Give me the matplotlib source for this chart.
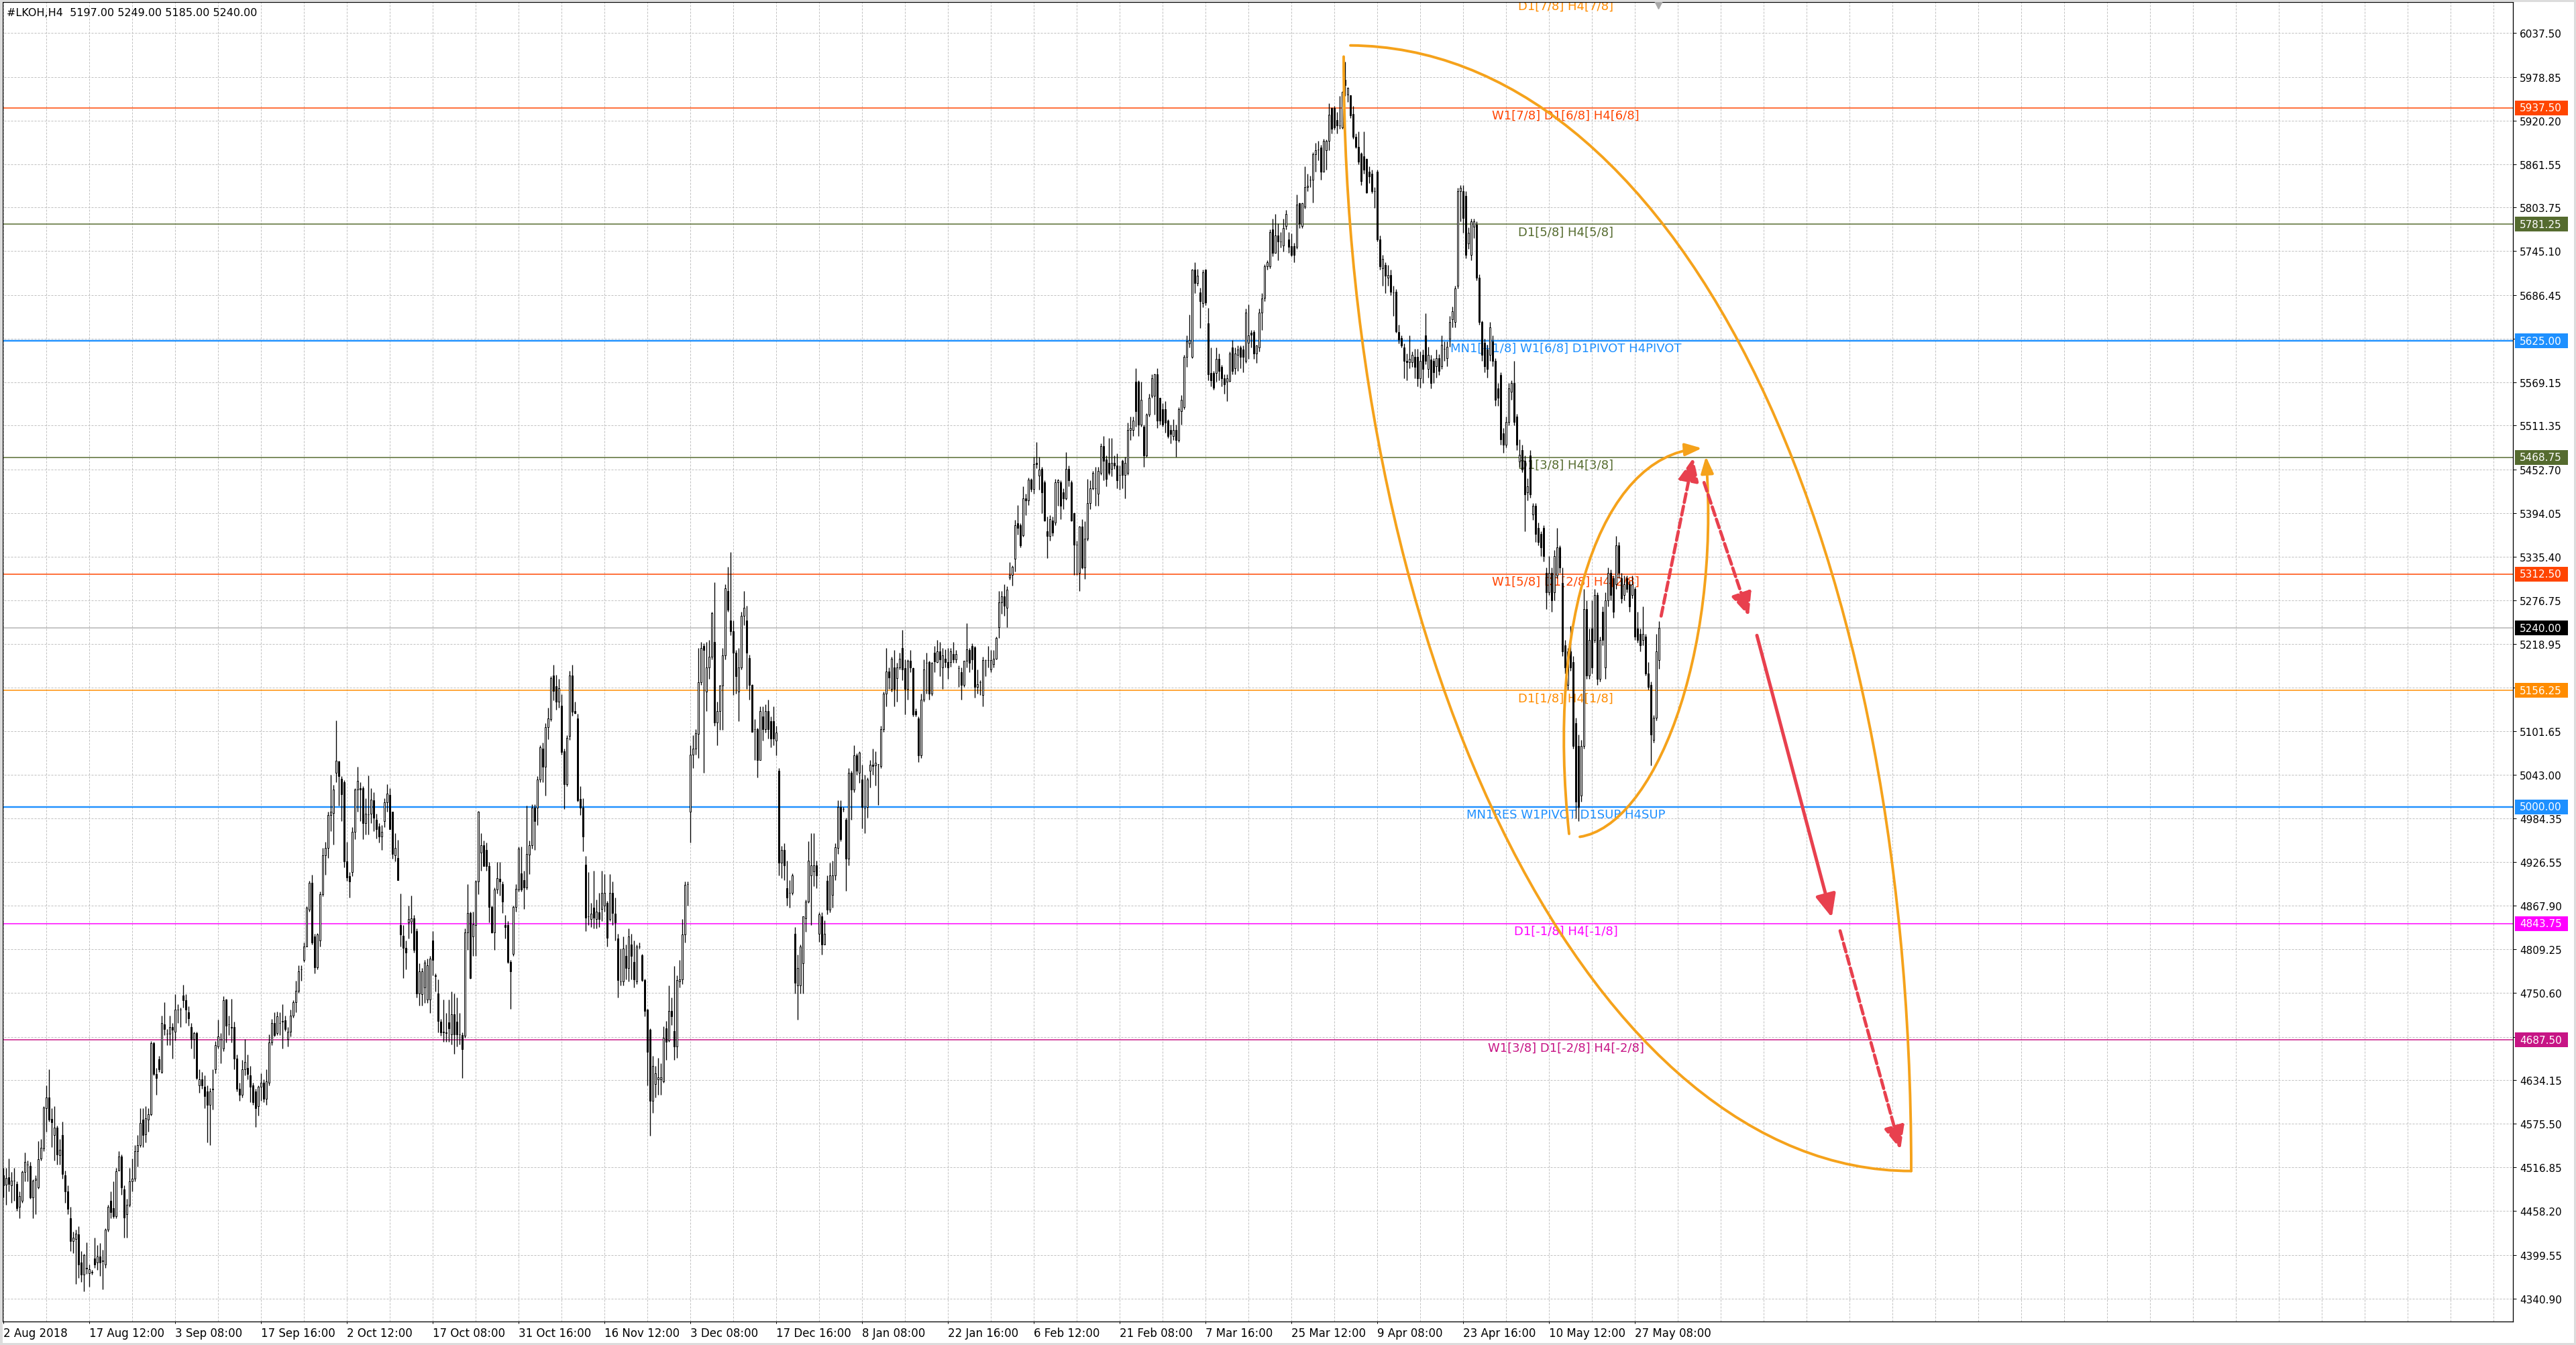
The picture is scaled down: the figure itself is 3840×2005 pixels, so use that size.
import numpy as np
import matplotlib
matplotlib.use("Agg")
import matplotlib.pyplot as plt
import matplotlib.transforms as mtransforms
from matplotlib.patches import Rectangle, FancyArrowPatch, PathPatch
from matplotlib.path import Path

plt.rcParams['font.family'] = ['DejaVu Sans', 'Noto Sans']

# ---------------- data ----------------
header_text = "#LKOH,H4  5197.00 5249.00 5185.00 5240.00"

opens = [
4506,4494,4504,4493,4499,4495,4464,4472,4511,4521,4519,4477,4500,4490,4529,4542,4596,4611,4582,4560,
4570,4533,4560,4506,4485,4449,4418,4421,4427,4389,4373,4382,4375,4376,4395,4389,4397,4391,4387,4433,
4472,4462,4451,4513,4531,4487,4454,4467,4498,4502,4539,4547,4581,4561,4581,4588,4683,4642,4662,4645,
4709,4696,4696,4705,4699,4728,4728,4747,4741,4725,4705,4689,4697,4627,4635,4625,4619,4601,4621,4648,
4679,4689,4676,4742,4709,4705,4705,4663,4622,4614,4648,4650,4640,4627,4619,4599,4625,4630,4609,4630,
4684,4710,4697,4710,4712,4714,4689,4699,4720,4738,4754,4782,4795,4813,4862,4898,4826,4785,4821,4883,
4935,4945,4989,4992,5046,5061,5038,5033,4927,
4907,4913,4967,5023,5025,5025,4978,4990,4991,5009,4983,4974,4960,4981,5006,5016,4994,4935,4932,4842,
4827,4811,4845,4846,4851,4834,4750,4749,4758,4742,4742,4821,4774,4750,4712,4698,4697,4711,4695,4722,
4712,4695,4694,4693,4832,4858,4826,4842,4900,4939,4949,4942,4921,4866,4832,4889,4904,4897,4842,4842,
4792,4803,4866,4889,4911,4902,4892,4936,4949,4999,4999,5037,5078,5054,5107,5118,5176,5162,5141,5136,
5075,5031,5095,5176,5129,5119,5011,4999,4923,4853,4850,4865,4850,4859,4863,4868,4871,4850,4885,4857,
4824,4766,4766,4800,4784,4816,4792,4766,4813,4801,4768,4728,4701,4606,4629,4635,4635,4632,4703,4687,
4727,4700,4679,4766,4769,4829,4897,4994,5070,5078,5098,5167,5216,5155,5187,5201,5221,5113,5129,5163,
5203,5290,5250,5236,5207,5155,5187,5256,5250,5200,5164,5104,5104,5063,5121,5104,5129,5115,5115,5089,
5049,4925,4942,4891,4885,4885,4830,4761,4761,4790,4851,4873,4908,4914,4922,4830,4853,4816,4901,4862,
4882,4908,4945,5000,4997,4983,4931,5046,5023,5069,5046,5037,4998,5000,5049,5057,5056,5058,5055,5104,
5152,5182,5158,5187,5173,5187,5213,5186,5158,5196,5186,5129,5119,5069,5144,5193,5194,5152,5207,5194,
5209,5187,5199,5194,5194,5205,5198,5186,5181,5164,5196,5210,5216,5214,5161,5167,5150,5197,5197,5184,
5192,5199,5241,5274,5282,5267,5308,5311,5333,5380,5378,5364,5414,5411,5439,5426,5461,5444,5453,5435,
5370,5363,5384,5381,5435,5435,5422,5414,5453,5435,5394,5352,5314,5376,5321,5360,5407,5427,5427,5420,
5448,5484,5466,5461,5453,5461,5458,5445,5464,5445,5448,5505,5505,5570,5570,5513,5510,5471,5526,5551,
5551,5580,5549,5533,5533,5518,5505,5497,5505,5492,5531,5536,5603,5621,5603,5720,5702,5690,5675,5720,
5648,5582,5582,5582,5601,5590,5575,5570,5571,5616,5588,5606,5616,5613,5598,5622,5636,5637,5608,5616,
5663,5683,5725,5725,5774,5743,5766,5758,5753,5779,5761,5752,5752,5751,5809,5779,5805,5831,5841,5841,
5875,5881,5884,5852,5880,5893,5937,5937,5921,5914,5911,5975,5955,5954,5929,5898,5885,5876,5872,5869,
5852,5849,5826,5852,5761,5722,5727,5710,5713,5690,5691,5637,5629,5616,5598,5596,5596,5603,5603,5575,
5606,5632,5587,5600,5598,5591,5602,5591,5614,5602,5628,5654,5650,5699,5826,5826,5819,5755,5740,5778,
5781,5710,5650,5622,5613,5606,5624,5598,5561,5579,5501,5486,5516,5557,5568,5523,5463,5478,5464,5422,
5471,5392,5404,5374,5366,5374,5314,5288,5314,5288,5310,5348,5300,5217,5164,5209,5194,5112,5082,5015,
5082,5265,5176,5239,5224,5284,5172,5262,5187,5277,5314,5307,5299,5351,5307,5284,5307,5299,5284,5292,
5239,5232,5224,5228,5179,5164,5090,5120,5197]

highs = [
4516,4516,4529,4511,4516,4498,4485,4513,4537,4526,4524,4501,4506,4552,4555,4599,4627,4648,4596,4599,
4573,4555,4578,4513,4493,4464,4431,4433,4438,4405,4401,4416,4387,4379,4423,4413,4415,4406,4435,4467,
4485,4498,4516,4539,4534,4493,4475,4516,4529,4547,4560,4596,4596,4599,4596,4686,4685,4650,4666,4720,
4738,4702,4720,4710,4749,4736,4731,4762,4749,4733,4710,4699,4699,4648,4645,4640,4627,4623,4648,4686,
4715,4697,4746,4743,4720,4743,4712,4668,4630,4661,4689,4668,4653,4630,4622,4627,4643,4635,4648,4695,
4716,4725,4726,4725,4736,4720,4705,4728,4741,4767,4788,4788,4818,4867,4901,4909,4830,4831,4887,4945,
4953,4994,5043,5030,5116,5062,5041,5036,4953,
4913,4973,5025,5054,5033,5028,5012,5042,5025,5020,4991,4978,4976,5012,5031,5025,4994,4965,4956,4884,
4842,4821,4868,4881,4855,4837,4790,4784,4795,4797,4800,4834,4777,4769,4716,4742,4724,4742,4753,4750,
4745,4724,4698,4837,4897,4860,4860,4902,4995,4965,4955,4952,4926,4868,4892,4926,4926,4900,4855,4847,
4795,4868,4897,4947,4947,4915,5002,4955,5004,5004,5041,5083,5086,5112,5133,5175,5191,5177,5172,5151,
5078,5096,5183,5191,5141,5125,5028,5012,4934,4913,4871,4915,4876,4885,4915,4910,4874,4910,4900,4879,
4830,4810,4826,4816,4837,4830,4821,4816,4818,4803,4770,4729,4703,4666,4653,4664,4656,4706,4713,4761,
4745,4787,4774,4795,4850,4900,4900,5083,5096,5104,5213,5221,5219,5221,5224,5262,5301,5141,5164,5213,
5299,5322,5342,5250,5210,5213,5262,5290,5270,5204,5165,5118,5106,5135,5135,5138,5144,5121,5135,5109,
5052,4948,4951,4928,4902,4911,4839,4802,4816,4853,4876,4954,4965,4965,4928,4859,4859,4848,4908,4925,
4928,4951,5009,5009,5000,4986,5052,5049,5083,5072,5075,5057,5043,5040,5063,5078,5075,5058,5109,5155,
5213,5187,5201,5210,5193,5207,5237,5198,5198,5210,5187,5132,5121,5152,5198,5207,5196,5194,5216,5224,
5221,5213,5211,5213,5213,5221,5210,5190,5187,5196,5246,5213,5219,5216,5184,5170,5201,5198,5216,5210,
5210,5228,5290,5290,5299,5296,5328,5324,5385,5405,5380,5430,5420,5442,5441,5469,5489,5469,5456,5438,
5389,5391,5389,5440,5440,5438,5427,5476,5458,5438,5395,5357,5377,5386,5383,5440,5438,5451,5456,5456,
5487,5497,5471,5495,5495,5471,5474,5458,5466,5469,5515,5523,5523,5588,5572,5570,5513,5528,5554,5580,
5581,5588,5549,5541,5544,5520,5513,5520,5513,5536,5552,5606,5632,5660,5721,5730,5721,5696,5720,5721,
5669,5616,5585,5616,5608,5593,5580,5580,5611,5626,5616,5619,5619,5619,5668,5674,5639,5639,5620,5668,
5689,5728,5733,5774,5789,5795,5782,5771,5789,5800,5771,5769,5756,5821,5810,5810,5859,5849,5846,5878,
5890,5893,5888,5896,5895,5943,5938,5940,5932,5953,5960,5999,5965,5954,5940,5903,5906,5878,5906,5870,
5859,5854,5831,5854,5766,5740,5730,5727,5720,5699,5694,5647,5632,5621,5608,5632,5611,5614,5614,5611,
5613,5662,5617,5606,5602,5613,5607,5632,5624,5624,5658,5671,5699,5830,5834,5834,5826,5777,5789,5789,
5785,5714,5652,5628,5620,5650,5632,5602,5568,5583,5508,5523,5568,5572,5598,5527,5493,5486,5471,5441,
5478,5407,5407,5381,5370,5378,5321,5336,5321,5344,5374,5351,5321,5224,5213,5243,5202,5120,5097,5090,
5292,5277,5239,5277,5292,5288,5228,5269,5288,5321,5318,5310,5363,5355,5314,5310,5310,5303,5310,5295,
5262,5239,5269,5232,5194,5168,5123,5232,5249]

lows = [
4477,4467,4485,4469,4472,4459,4449,4469,4498,4498,4475,4449,4454,4488,4526,4539,4565,4578,4544,4526,
4521,4521,4502,4469,4454,4405,4402,4361,4369,4363,4351,4374,4357,4373,4382,4379,4371,4353,4382,4431,
4449,4449,4449,4513,4480,4423,4423,4464,4485,4498,4518,4544,4544,4550,4565,4586,4640,4614,4645,4643,
4694,4681,4681,4663,4687,4710,4705,4731,4710,4707,4676,4663,4635,4617,4622,4596,4550,4547,4594,4643,
4676,4656,4673,4684,4694,4684,4648,4619,4606,4611,4640,4635,4604,4601,4571,4586,4606,4604,4601,4627,
4681,4692,4694,4694,4676,4700,4679,4692,4718,4725,4751,4767,4792,4813,4860,4816,4777,4782,4813,4880,
4909,4932,4968,4950,5033,5002,4981,4919,4901,
4879,4907,4957,4994,4981,4957,4963,4963,4978,4968,4958,4952,4942,4973,4994,4970,4931,4927,4902,4813,
4771,4782,4824,4831,4805,4745,4734,4734,4737,4737,4724,4774,4753,4698,4693,4685,4685,4685,4682,4669,
4679,4682,4637,4691,4808,4770,4800,4800,4883,4915,4921,4915,4845,4831,4808,4884,4881,4858,4824,4790,
4729,4800,4860,4887,4887,4863,4889,4910,4944,4942,4976,5033,5033,5015,5091,5115,5143,5130,5133,5070,
4997,5028,5090,5122,5125,5007,4989,4941,4834,4842,4839,4837,4837,4839,4847,4860,4813,4847,4842,4821,
4745,4761,4761,4769,4766,4769,4758,4763,4810,4766,4719,4627,4559,4590,4611,4614,4614,4630,4661,4685,
4708,4661,4664,4758,4763,4818,4868,4952,5052,5070,5066,5164,5046,5129,5172,5198,5109,5083,5103,5103,
5198,5262,5230,5150,5152,5115,5184,5244,5158,5144,5101,5063,5040,5063,5089,5100,5092,5080,5083,5069,
4908,4905,4902,4868,4865,4882,4750,4715,4750,4750,4833,4871,4842,4894,4891,4819,4802,4816,4856,4859,
4865,4902,4937,4954,4994,4888,4922,4983,5020,5043,5032,4971,4965,4986,5026,5043,5029,5003,5052,5101,
5135,5158,5155,5135,5141,5184,5170,5124,5144,5181,5121,5121,5060,5066,5141,5152,5144,5149,5181,5193,
5175,5158,5187,5172,5188,5193,5193,5161,5144,5161,5187,5181,5184,5147,5152,5150,5135,5175,5187,5181,
5187,5198,5227,5259,5256,5241,5305,5297,5316,5365,5348,5362,5391,5405,5423,5420,5454,5425,5394,5383,
5334,5357,5363,5378,5404,5386,5399,5412,5430,5383,5311,5311,5290,5319,5306,5357,5399,5425,5404,5404,
5445,5438,5430,5445,5443,5453,5427,5425,5427,5414,5445,5492,5497,5510,5497,5510,5456,5469,5523,5549,
5526,5508,5513,5510,5502,5495,5487,5492,5469,5489,5513,5533,5590,5616,5602,5689,5699,5642,5670,5673,
5572,5564,5559,5570,5572,5564,5554,5544,5570,5580,5580,5585,5588,5583,5595,5601,5616,5601,5595,5611,
5639,5678,5720,5722,5738,5743,5733,5750,5745,5774,5743,5738,5730,5748,5776,5776,5802,5826,5831,5810,
5852,5867,5841,5852,5854,5880,5903,5908,5903,5909,5909,5953,5945,5924,5896,5883,5862,5834,5849,5823,
5836,5823,5803,5758,5720,5699,5689,5699,5686,5658,5636,5621,5616,5575,5572,5588,5590,5575,5564,5562,
5568,5594,5576,5561,5568,5576,5579,5587,5598,5591,5617,5643,5643,5695,5785,5770,5736,5748,5733,5763,
5706,5647,5598,5583,5576,5598,5591,5538,5538,5486,5475,5482,5512,5546,5512,5478,5456,5449,5370,5411,
5415,5385,5355,5351,5336,5329,5265,5284,5262,5277,5307,5314,5202,5179,5157,5183,5078,4985,4981,5007,
5078,5172,5172,5179,5220,5164,5168,5217,5172,5269,5277,5254,5292,5307,5273,5277,5288,5262,5280,5224,
5220,5209,5217,5176,5157,5056,5086,5116,5185]

closes = [
4493,4503,4495,4499,4499,4462,4478,4511,4524,4521,4477,4499,4502,4528,4543,4597,4611,4581,4577,4570,
4534,4540,4508,4485,4461,4418,4423,4428,4387,4373,4399,4381,4380,4377,4387,4397,4389,4392,4433,4464,
4457,4451,4512,4531,4490,4450,4467,4498,4502,4539,4547,4576,4560,4583,4588,4683,4642,4637,4648,4710,
4702,4696,4705,4701,4728,4728,4728,4741,4728,4717,4689,4697,4637,4635,4627,4612,4601,4619,4622,4681,
4692,4689,4741,4707,4709,4704,4663,4622,4614,4648,4658,4642,4625,4604,4596,4625,4630,4609,4632,4684,
4710,4694,4719,4710,4713,4702,4699,4720,4738,4754,4780,4782,4813,4865,4898,4818,4785,4829,4883,4935,
4945,4989,4994,5023,5062,5041,5017,4927,4906,
4900,4967,5023,5035,5023,4978,4991,4990,5010,4986,4970,4960,4967,5006,5018,4970,4937,4945,4902,4829,
4811,4805,4850,4851,4808,4750,4780,4780,4791,4788,4797,4795,4773,4713,4698,4699,4698,4703,4722,4695,
4695,4695,4675,4832,4858,4771,4843,4900,4994,4949,4921,4921,4866,4832,4889,4905,4900,4873,4839,4792,
4780,4866,4890,4944,4889,4892,4937,4949,4999,4981,5037,5080,5054,5107,5119,5173,5156,5141,5159,5074,
5031,5093,5176,5128,5126,5009,4999,4960,4852,4853,4857,4852,4860,4850,4885,4885,4825,4885,4858,4845,
4768,4766,4810,4784,4826,4800,4769,4813,4813,4768,4727,4672,4606,4653,4643,4638,4638,4691,4685,4727,
4719,4679,4768,4769,4829,4896,4897,5070,5078,5099,5167,5213,5210,5187,5201,5260,5113,5129,5163,5203,
5293,5264,5236,5207,5175,5187,5256,5267,5207,5164,5101,5104,5063,5129,5104,5129,5104,5092,5092,5100,
4925,4942,4922,4879,4885,4908,4764,4784,4813,4853,4873,4928,4922,4922,4908,4856,4816,4830,4862,4908,
4908,4946,5000,4957,4997,4931,5046,5023,5069,5049,5073,5000,4998,5037,5057,5055,5059,5058,5104,5152,
5182,5174,5199,5158,5187,5199,5184,5158,5196,5187,5124,5124,5069,5144,5184,5193,5152,5193,5195,5209,
5198,5203,5194,5187,5209,5198,5205,5186,5164,5196,5211,5193,5198,5161,5165,5167,5197,5197,5197,5197,
5199,5227,5274,5282,5270,5291,5311,5322,5378,5374,5351,5414,5411,5439,5426,5460,5460,5452,5422,5384,
5363,5386,5368,5435,5438,5404,5414,5453,5438,5384,5352,5352,5376,5321,5360,5407,5427,5448,5427,5451,
5484,5464,5440,5448,5461,5458,5438,5445,5445,5461,5505,5508,5518,5531,5513,5546,5471,5526,5549,5575,
5580,5518,5518,5513,5515,5497,5500,5505,5492,5533,5546,5603,5624,5626,5720,5702,5712,5678,5717,5676,
5580,5572,5562,5601,5585,5575,5567,5575,5608,5585,5608,5613,5603,5603,5663,5632,5633,5608,5619,5663,
5682,5725,5730,5771,5743,5766,5758,5758,5776,5795,5751,5740,5740,5808,5782,5809,5831,5833,5841,5875,
5880,5881,5852,5893,5893,5928,5909,5911,5914,5914,5959,5968,5964,5927,5898,5885,5865,5839,5854,5824,
5845,5826,5826,5761,5725,5735,5712,5713,5691,5690,5638,5627,5619,5598,5596,5601,5606,5590,5575,5598,
5587,5598,5606,5568,5583,5602,5585,5620,5614,5617,5650,5665,5695,5826,5830,5790,5740,5770,5785,5785,
5710,5650,5606,5591,5587,5643,5598,5546,5549,5493,5486,5516,5561,5568,5516,5486,5472,5452,5419,5430,
5419,5404,5366,5355,5348,5336,5288,5314,5277,5336,5348,5321,5209,5187,5209,5187,5082,5007,5000,5082,
5265,5176,5224,5187,5284,5172,5224,5224,5277,5314,5284,5262,5351,5314,5280,5299,5292,5269,5299,5228,
5224,5217,5232,5179,5161,5097,5120,5209,5240]

date_labels = ["2 Aug 2018", "17 Aug 12:00", "3 Sep 08:00", "17 Sep 16:00", "2 Oct 12:00",
               "17 Oct 08:00", "31 Oct 16:00", "16 Nov 12:00", "3 Dec 08:00", "17 Dec 16:00",
               "8 Jan 08:00", "22 Jan 16:00", "6 Feb 12:00", "21 Feb 08:00", "7 Mar 16:00",
               "25 Mar 12:00", "9 Apr 08:00", "23 Apr 16:00", "10 May 12:00", "27 May 08:00"]

price_ticks = [6037.50, 5978.85, 5920.20, 5861.55, 5803.75, 5745.10, 5686.45, 5627.80, 5569.15,
               5511.35, 5452.70, 5394.05, 5335.40, 5276.75, 5218.95, 5160.30, 5101.65, 5043.00,
               4984.35, 4926.55, 4867.90, 4809.25, 4750.60, 4691.95, 4634.15, 4575.50, 4516.85,
               4458.20, 4399.55, 4340.90]

level_prices = [6093.75, 5937.50, 5781.25, 5625.00, 5468.75, 5312.50, 5156.25, 5000.00, 4843.75, 4687.50]
level_names = ["D1[7/8] H4[7/8]", "W1[7/8] D1[6/8] H4[6/8]", "D1[5/8] H4[5/8]",
               "MN1[+1/8] W1[6/8] D1PIVOT H4PIVOT", "D1[3/8] H4[3/8]", "W1[5/8] D1[2/8] H4[2/8]",
               "D1[1/8] H4[1/8]", "MN1RES W1PIVOT D1SUP H4SUP", "D1[-1/8] H4[-1/8]",
               "W1[3/8] D1[-2/8] H4[-2/8]"]
level_colors = ['#FF8C00', '#FF4500', '#556B2F', '#1E90FF', '#556B2F', '#FF4500',
                '#FF8C00', '#1E90FF', '#FF00FF', '#C71585']
level_line_px = [1.5, 1.5, 1.5, 2.4, 1.5, 1.5, 1.5, 2.4, 1.5, 1.5]
current_price = 5240.00

# hand-drawn chart objects (anchor points in bar index / price)
outer_curve = [(502, 6021), (620, 6018), (711, 5392), (711, 4512)]
inner_curve = [(499.5, 6006), (499.5, 5181), (594, 4512), (711, 4512)]
loop_left = [(583.5, 4964), (575, 5250), (595, 5470), (633, 5481)]
loop_right = [(587.5, 4960), (615, 4975), (640, 5200), (634.5, 5470)]
red_arrows = [((617.8, 5256), (629.8, 5468), 'dashed'),
              ((633.8, 5435), (650.5, 5256), 'dashed'),
              ((653.5, 5230), (681.4, 4852), 'solid'),
              ((684.5, 4834), (707.0, 4541), 'dashed')]

# ---------------- figure geometry ----------------
W, H = 3840, 2006
DPI = 100
PT = 72.0 / DPI          # points per pixel
ax_l, ax_r, ax_t, ax_b = 4, 3746, 4, 1971
bar_px = 4.0
first_bar_px = 5.0
ymax, ymin = 6079.2, 4310.2
price_per_px = (ymax - ymin) / (ax_b - ax_t)

fig = plt.figure(figsize=(W / DPI, H / DPI), dpi=DPI, facecolor='white')
ax = fig.add_axes([ax_l / W, (H - ax_b) / H, (ax_r - ax_l) / W, (ax_b - ax_t) / H])
ax.set_facecolor('white')
ax.set_xlim((ax_l - first_bar_px) / bar_px, (ax_r - first_bar_px) / bar_px)
ax.set_ylim(ymin, ymax)

o = np.array(opens, float)
h = np.array(highs, float)
l = np.array(lows, float)
c = np.array(closes, float)
n = min(len(o), len(h), len(l), len(c))
o, h, l, c = o[:n], h[:n], l[:n], c[:n]
h = np.maximum(h, np.maximum(o, c))
l = np.minimum(l, np.minimum(o, c))
x = np.arange(n)

grid_col = '#C0C0C0'
xmax_bar = (ax_r - first_bar_px) / bar_px
# grid
ax.hlines(price_ticks, -1, xmax_bar + 1, colors=grid_col, linewidth=1 * PT,
          linestyles=(0, (3, 2)), zorder=1)
ax.vlines(np.arange(0, int(xmax_bar) + 1, 16), ymin, ymax, colors=grid_col,
          linewidth=1 * PT, linestyles=(0, (3, 2)), zorder=1)

# level lines
for lv, col, lw in zip(level_prices, level_colors, level_line_px):
    if ymin < lv < ymax:
        ax.axhline(lv, color=col, linewidth=lw * PT, zorder=2)
ax.axhline(current_price, color='#B4B4B4', linewidth=1.5 * PT, zorder=2)

# level names (the top one sits right at the upper edge of the window)
txt_off = mtransforms.offset_copy(ax.transData, fig=fig, y=-2, units='dots')
label_x = (2334 - first_bar_px) / bar_px
for lv, name, col in zip(level_prices, level_names, level_colors):
    if lv > ymax:
        ax.text(label_x, 1.0 + (ax_t - 1) / (ax_b - ax_t), name, color=col, fontsize=13,
                ha='center', va='top',
                transform=mtransforms.blended_transform_factory(ax.transData, ax.transAxes),
                zorder=2.5, clip_on=False)
    else:
        ax.text(label_x, lv, name, color=col, fontsize=13, ha='center', va='top',
                transform=txt_off, zorder=2.5, clip_on=False)

# candles
ax.vlines(x, l, h, colors='black', linewidth=1.35 * PT, zorder=3)
up = c >= o
ax.bar(x, np.abs(c - o), bottom=np.minimum(o, c), width=0.74,
       color=np.where(up, 'white', 'black'), edgecolor='black',
       linewidth=1.0 * PT, zorder=4)

# header
ax.text((10 - ax_l) / (ax_r - ax_l), 1 - (12 - ax_t) / (ax_b - ax_t), header_text,
        transform=ax.transAxes, fontsize=11.5, ha='left', va='top', color='black', zorder=12)

# orange hand-drawn curves
orange = '#F5A21B'
for pts in (outer_curve, inner_curve):
    path = Path(pts, [Path.MOVETO, Path.CURVE4, Path.CURVE4, Path.CURVE4])
    ax.add_patch(PathPatch(path, fill=False, edgecolor=orange, linewidth=3.9 * PT,
                           zorder=6, capstyle='round'))
for pts in (loop_left, loop_right):
    path = Path(pts, [Path.MOVETO, Path.CURVE4, Path.CURVE4, Path.CURVE4])
    ax.add_patch(FancyArrowPatch(path=path, arrowstyle='-|>,head_length=0.8,head_width=0.3',
                                 mutation_scale=19, color=orange, linewidth=3.9 * PT, zorder=6))

# red arrows
red = '#E8404E'
for start, tip, style in red_arrows:
    if style == 'dashed':
        ls = (0, (2.8, 1.2))
        lw = 4.8 * PT
    else:
        ls = '-'
        lw = 5.0 * PT
    arr = FancyArrowPatch(start, tip, arrowstyle='-|>,head_length=0.9,head_width=0.4',
                          mutation_scale=23, color=red, linewidth=lw, linestyle=ls,
                          shrinkA=0, shrinkB=0, zorder=7)
    ax.add_patch(arr)

# axes frame / ticks
for sp in ax.spines.values():
    sp.set_color('black')
    sp.set_linewidth(1.3 * PT)

ax.yaxis.tick_right()
ax.set_yticks(price_ticks)
ax.set_yticklabels(['%.2f' % v for v in price_ticks])
ax.tick_params(axis='y', which='major', direction='out', length=5 * PT, width=1 * PT,
               pad=5 * PT, labelsize=11, colors='black', right=True, left=False,
               labelright=True, labelleft=False)

ax.set_xticks([i * 32 for i in range(len(date_labels))])
ax.set_xticklabels(date_labels)
ax.tick_params(axis='x', which='major', direction='out', length=3 * PT, width=1 * PT,
               pad=5 * PT, labelsize=12, colors='black')
for lbl in ax.get_xticklabels():
    lbl.set_horizontalalignment('left')

# coloured price boxes on the right scale
trans = mtransforms.blended_transform_factory(ax.transAxes, ax.transData)
box_x0 = (3749 - ax_l) / (ax_r - ax_l)
box_w = (3828 - 3749) / (ax_r - ax_l)
box_h = 22 * price_per_px
text_x = (3756 - ax_l) / (ax_r - ax_l)
box_levels = [(lv, col) for lv, col in zip(level_prices, level_colors) if ymin < lv < ymax]
box_levels.append((current_price, '#000000'))
for lv, col in box_levels:
    ax.add_patch(Rectangle((box_x0, lv - box_h / 2), box_w, box_h, transform=trans,
                           facecolor=col, edgecolor='none', clip_on=False, zorder=20))
    ax.text(text_x, lv, '%.2f' % lv, transform=trans, color='white', fontsize=11,
            ha='left', va='center', clip_on=False, zorder=21)

# chart-shift marker at the top
tri_trans = mtransforms.blended_transform_factory(ax.transData, ax.transAxes)
ax.plot([n - 1.25], [1 - 2 / (ax_b - ax_t)], marker='v', markersize=12 * PT * 1.3,
        color='#A8A8A8', transform=tri_trans, clip_on=False, zorder=22)

# light window border
fig.add_artist(Rectangle((0, 0), 1, 1, transform=fig.transFigure, fill=False,
                         edgecolor='#DCDCDC', linewidth=5))

fig.savefig('out.png', dpi=DPI, facecolor='white')
